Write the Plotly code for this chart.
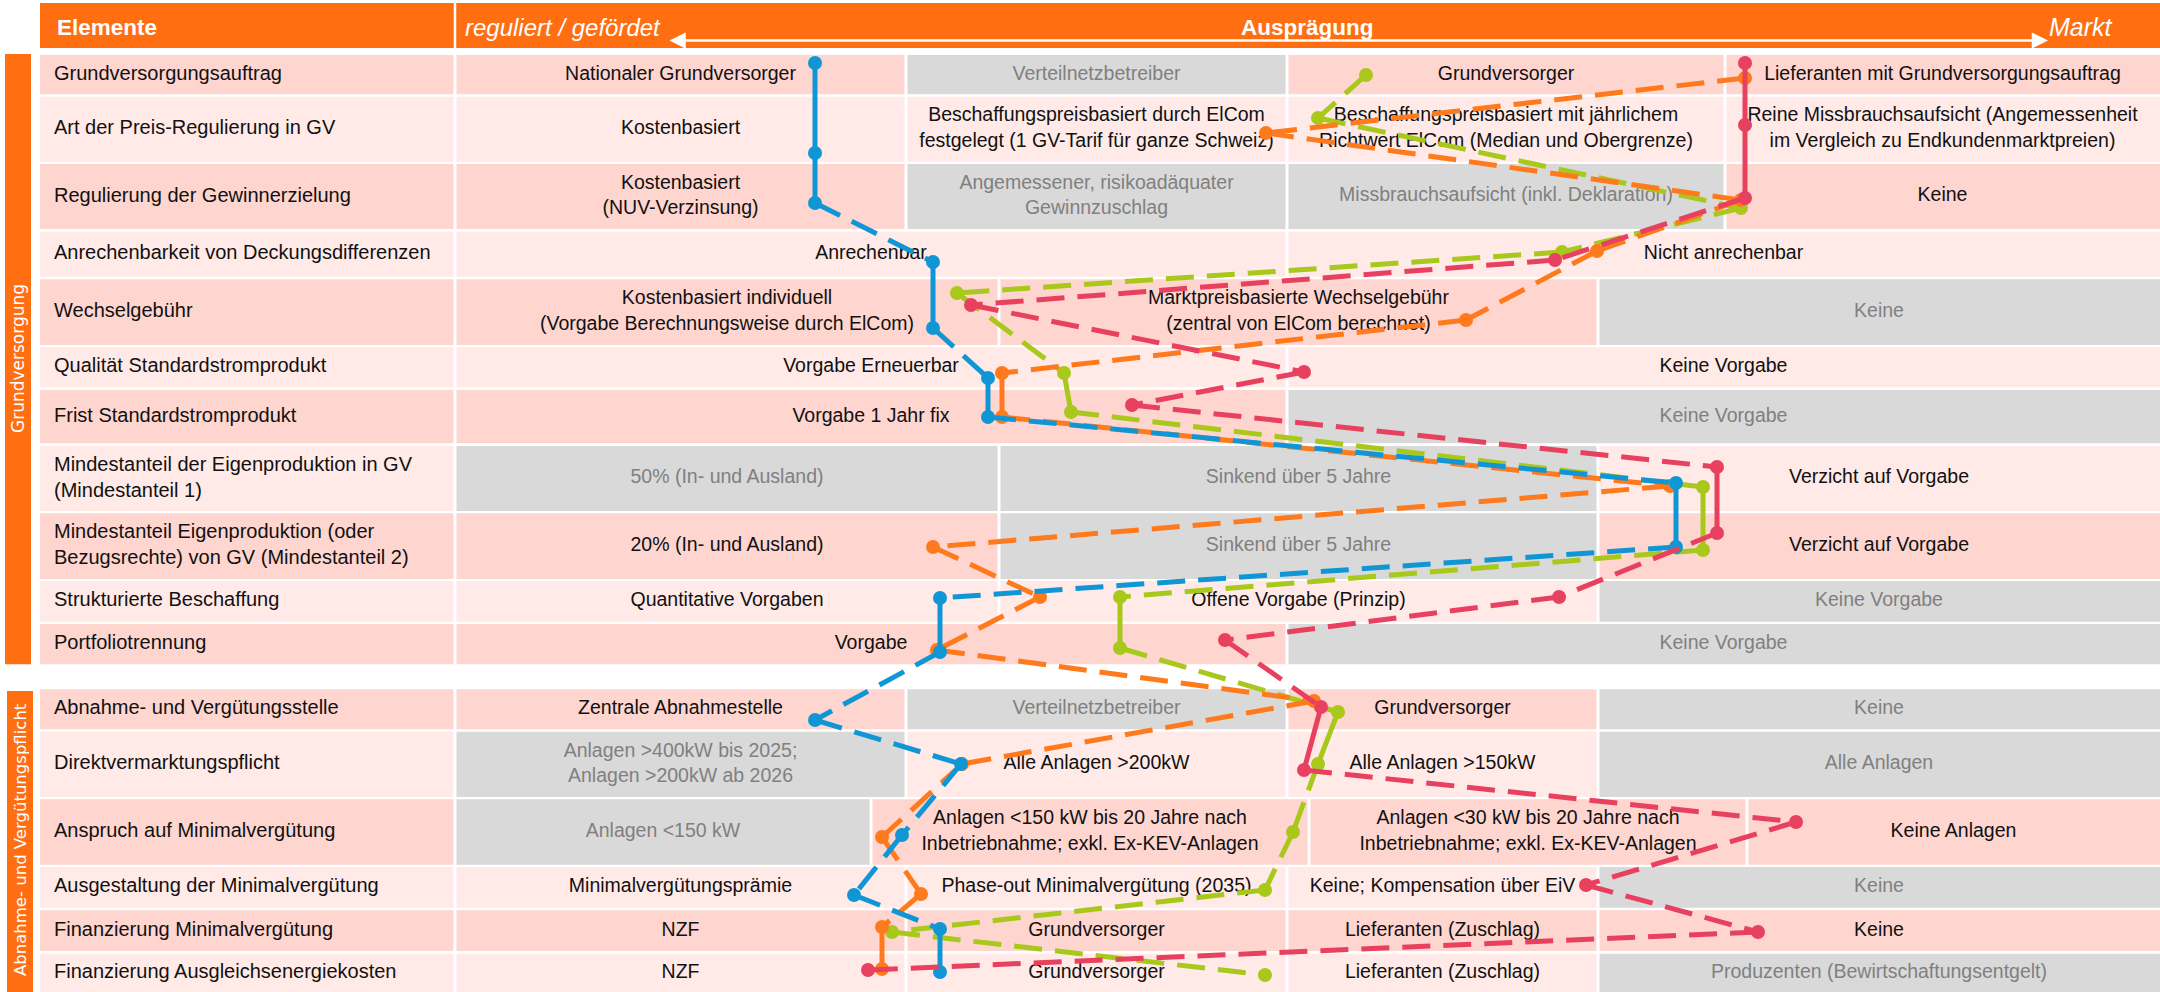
import plotly.graph_objects as go

W, H = 2160, 992

# ---------------- data ----------------
elemente = [
    "Grundversorgungsauftrag",
    "Art der Preis-Regulierung in GV",
    "Regulierung der Gewinnerzielung",
    "Anrechenbarkeit von Deckungsdifferenzen",
    "Wechselgebühr",
    "Qualität Standardstromprodukt",
    "Frist Standardstromprodukt",
    "Mindestanteil der Eigenproduktion in GV<br>(Mindestanteil 1)",
    "Mindestanteil Eigenproduktion (oder<br>Bezugsrechte) von GV (Mindestanteil 2)",
    "Strukturierte Beschaffung",
    "Portfoliotrennung",
    "Abnahme- und Vergütungsstelle",
    "Direktvermarktungspflicht",
    "Anspruch auf Minimalvergütung",
    "Ausgestaltung der Minimalvergütung",
    "Finanzierung Minimalvergütung",
    "Finanzierung Ausgleichsenergiekosten",
]

auspraegungen = [
    ["Nationaler Grundversorger", "Verteilnetzbetreiber", "Grundversorger", "Lieferanten mit Grundversorgungsauftrag"],
    ["Kostenbasiert", "Beschaffungspreisbasiert durch ElCom<br>festgelegt (1 GV-Tarif für ganze Schweiz)",
     "Beschaffungspreisbasiert mit jährlichem<br>Richtwert ElCom (Median und Obergrenze)",
     "Reine Missbrauchsaufsicht (Angemessenheit<br>im Vergleich zu Endkundenmarktpreien)"],
    ["Kostenbasiert<br>(NUV-Verzinsung)", "Angemessener, risikoadäquater<br>Gewinnzuschlag",
     "Missbrauchsaufsicht (inkl. Deklaration)", "Keine"],
    ["Anrechenbar", "Nicht anrechenbar"],
    ["Kostenbasiert individuell<br>(Vorgabe Berechnungsweise durch ElCom)",
     "Marktpreisbasierte Wechselgebühr<br>(zentral von ElCom berechnet)", "Keine"],
    ["Vorgabe Erneuerbar", "Keine Vorgabe"],
    ["Vorgabe 1 Jahr fix", "Keine Vorgabe"],
    ["50% (In- und Ausland)", "Sinkend über 5 Jahre", "Verzicht auf Vorgabe"],
    ["20% (In- und Ausland)", "Sinkend über 5 Jahre", "Verzicht auf Vorgabe"],
    ["Quantitative Vorgaben", "Offene Vorgabe (Prinzip)", "Keine Vorgabe"],
    ["Vorgabe", "Keine Vorgabe"],
    ["Zentrale Abnahmestelle", "Verteilnetzbetreiber", "Grundversorger", "Keine"],
    ["Anlagen >400kW bis 2025;<br>Anlagen >200kW ab 2026", "Alle Anlagen >200kW", "Alle Anlagen >150kW", "Alle Anlagen"],
    ["Anlagen <150 kW", "Anlagen <150 kW bis 20 Jahre nach<br>Inbetriebnahme; exkl. Ex-KEV-Anlagen",
     "Anlagen <30 kW bis 20 Jahre nach<br>Inbetriebnahme; exkl. Ex-KEV-Anlagen", "Keine Anlagen"],
    ["Minimalvergütungsprämie", "Phase-out Minimalvergütung (2035)", "Keine; Kompensation über EiV", "Keine"],
    ["NZF", "Grundversorger", "Lieferanten (Zuschlag)", "Keine"],
    ["NZF", "Grundversorger", "Lieferanten (Zuschlag)", "Produzenten (Bewirtschaftungsentgelt)"],
]

# options that are not used (grey cells)
inaktiv = [
    [0, 1, 0, 0], [0, 0, 0, 0], [0, 1, 1, 0], [0, 0], [0, 0, 1], [0, 0], [0, 1],
    [1, 1, 0], [0, 1, 0], [0, 0, 1], [0, 1],
    [0, 1, 0, 1], [1, 0, 0, 1], [1, 0, 0, 0], [0, 0, 0, 1], [0, 0, 0, 0], [0, 0, 0, 1],
]

gruppen = ["Grundversorgung", "Abnahme- und Vergütungspflicht"]

# series: position on the "Ausprägung" axis per element row
blue_x = [815, 815, 815, 933, 933, 988, 988, 1676, 1676, 940, 940, 815, 961, 902, 854, 940, 940]
blue_y = [63, 153, 203, 262, 328, 378, 417, 483, 547, 598, 652, 720, 764, 835, 895, 929, 972]

orange_x = [1745, 1266, 1741, 1597, 1466, 1002, 1002, 1670, 933, 1040, 937, 1314, 962, 882, 921, 882, 882]
orange_y = [78, 133, 200, 251, 320, 373, 417, 486, 547, 597, 650, 701, 764, 837, 894, 927, 969]

green_x = [1366, 1318, 1741, 1562, 957, 1064, 1071, 1703, 1703, 1120, 1120, 1338, 1318, 1293, 1265, 892, 1265]
green_y = [75, 118, 208, 252, 293, 373, 412, 487, 550, 597, 648, 712, 764, 832, 890, 932, 975]

red_x = [1745, 1745, 1745, 1555, 971, 1304, 1132, 1717, 1717, 1559, 1225, 1321, 1304, 1796, 1586, 1758, 868]
red_y = [63, 125, 198, 260, 305, 372, 405, 467, 533, 597, 640, 707, 770, 822, 885, 932, 970]

# ---------------- layout geometry / styles ----------------
row_top = [55, 96.7, 164, 231.7, 279.3, 347.3, 390, 446, 513.3, 581, 624,
           689.3, 731.7, 799.3, 867, 910.3, 953.7]
row_bot = [94.3, 161.7, 229, 276.7, 345, 387.3, 443.3, 511, 579, 621.7, 664.3,
           729.3, 797, 864.7, 907.7, 951, 995]
row_dark = [1, 0, 1, 0, 1, 0, 1, 0, 1, 0, 1, 1, 0, 1, 0, 1, 0]
splits = [
    [455, 906, 1287, 1725, 2160], [455, 906, 1287, 1725, 2160], [455, 906, 1287, 1725, 2160],
    [455, 1287, 2160], [455, 999, 1598, 2160], [455, 1287, 2160], [455, 1287, 2160],
    [455, 999, 1598, 2160], [455, 999, 1598, 2160], [455, 999, 1598, 2160], [455, 1287, 2160],
    [455, 906, 1287, 1598, 2160], [455, 906, 1287, 1598, 2160], [455, 871, 1309, 1747, 2160],
    [455, 906, 1287, 1598, 2160], [455, 906, 1287, 1598, 2160], [455, 906, 1287, 1598, 2160],
]

DARK = "#FFD5CF"
LIGHT = "#FFEAE7"
GREY = "#D9D9D9"
ORANGE = "#FF6E11"
TXT = "#111111"
TXT_GREY = "#808080"
FONT = "Liberation Sans, Arial, sans-serif"
FS = 19.5
FS_LABEL = 20
G = 1.5  # half gap

fig = go.Figure()
shapes = []

# header
shapes.append(dict(type="rect", x0=40, x1=2162, y0=3, y1=48, fillcolor=ORANGE, line_width=0, layer="below"))
shapes.append(dict(type="line", x0=455, x1=455, y0=3, y1=48, line=dict(color="white", width=2.5), layer="below"))

# group bars
shapes.append(dict(type="rect", x0=5, x1=31, y0=54, y1=664.3, fillcolor=ORANGE, line_width=0, layer="below"))
shapes.append(dict(type="rect", x0=7, x1=33, y0=691, y1=995, fillcolor=ORANGE, line_width=0, layer="below"))

bx, by, bt = [], [], []
gx, gy, gt = [], [], []
lx, ly, lt = [], [], []
for r in range(len(elemente)):
    t, b = row_top[r], row_bot[r]
    base = DARK if row_dark[r] else LIGHT
    # label cell
    shapes.append(dict(type="rect", x0=40, x1=455 - G, y0=t, y1=b, fillcolor=base, line_width=0, layer="below"))
    lx.append(54); ly.append((t + min(b, 992)) / 2); lt.append(elemente[r])
    sp = splits[r]
    for c, txt in enumerate(auspraegungen[r]):
        x0, x1 = sp[c] + G, sp[c + 1] - (G if sp[c + 1] < 2160 else -2)
        grey = inaktiv[r][c]
        shapes.append(dict(type="rect", x0=x0, x1=x1, y0=t, y1=b,
                           fillcolor=GREY if grey else base, line_width=0, layer="below"))
        cx = (sp[c] + sp[c + 1]) / 2
        cy = (t + min(b, 992)) / 2
        if grey:
            gx.append(cx); gy.append(cy); gt.append(txt)
        else:
            bx.append(cx); by.append(cy); bt.append(txt)

fig.add_trace(go.Scatter(x=lx, y=ly, text=lt, mode="text", textposition="middle right",
                         textfont=dict(family=FONT, size=FS_LABEL, color=TXT), hoverinfo="skip", showlegend=False))
fig.add_trace(go.Scatter(x=bx, y=by, text=bt, mode="text", textposition="middle center",
                         textfont=dict(family=FONT, size=FS, color=TXT), hoverinfo="skip", showlegend=False))
fig.add_trace(go.Scatter(x=gx, y=gy, text=gt, mode="text", textposition="middle center",
                         textfont=dict(family=FONT, size=FS, color=TXT_GREY), hoverinfo="skip", showlegend=False))

series = [
    ("#A8C81B", green_x, green_y),
    ("#FF7A1C", orange_x, orange_y),
    ("#1196D5", blue_x, blue_y),
    ("#E8405F", red_x, red_y),
]
for col, xs, ys in series:
    sx, sy, dx, dy = [], [], [], []
    for i in range(len(xs) - 1):
        segx = [xs[i], xs[i + 1], None]
        segy = [ys[i], ys[i + 1], None]
        if abs(xs[i + 1] - xs[i]) < 25:
            sx += segx; sy += segy
        else:
            dx += segx; dy += segy
    fig.add_trace(go.Scatter(x=dx, y=dy, mode="lines", line=dict(color=col, width=5, dash="28px,13px"),
                             hoverinfo="skip", showlegend=False))
    fig.add_trace(go.Scatter(x=sx, y=sy, mode="lines", line=dict(color=col, width=5),
                             hoverinfo="skip", showlegend=False))
    fig.add_trace(go.Scatter(x=xs, y=ys, mode="markers", marker=dict(color=col, size=14, line_width=0),
                             hoverinfo="skip", showlegend=False))

annotations = [
    dict(x=55, y=27, text="<b>Elemente</b>", xanchor="left", yanchor="middle",
         font=dict(family=FONT, size=22.5, color="white")),
    dict(x=463, y=27, text="<i>reguliert / gefördet</i>", xanchor="left", yanchor="middle",
         font=dict(family=FONT, size=24, color="white")),
    dict(x=1307, y=27, text="<b>Ausprägung</b>", xanchor="center", yanchor="middle",
         font=dict(family=FONT, size=22.5, color="white")),
    dict(x=2047, y=27, text="<i>Markt</i>", xanchor="left", yanchor="middle",
         font=dict(family=FONT, size=25, color="white")),
    dict(x=2048, y=40.5, ax=668, ay=40.5, axref="x", ayref="y", text="", showarrow=True,
         arrowhead=2, arrowside="end+start", arrowsize=1.3, arrowwidth=2.5, arrowcolor="white"),
    dict(x=18, y=359, text=gruppen[0], textangle=-90, xanchor="center", yanchor="middle",
         font=dict(family="DejaVu Sans", size=17, color="white")),
    dict(x=20, y=840, text=gruppen[1], textangle=-90, xanchor="center", yanchor="middle",
         font=dict(family="DejaVu Sans", size=16.5, color="white")),
]
for a in annotations:
    a.setdefault("xref", "x")
    a.setdefault("yref", "y")
    a.setdefault("showarrow", False)

fig.update_layout(
    width=W, height=H, autosize=False,
    margin=dict(l=0, r=0, t=0, b=0, pad=0),
    paper_bgcolor="white", plot_bgcolor="white",
    xaxis=dict(range=[0, W], visible=False, fixedrange=True),
    yaxis=dict(range=[H, 0], visible=False, fixedrange=True),
    shapes=shapes, annotations=annotations,
)

fig.write_html(
    "out.html",
    config={"displayModeBar": False},
    post_script="document.body.style.margin='0';document.body.style.overflow='hidden';",
)
